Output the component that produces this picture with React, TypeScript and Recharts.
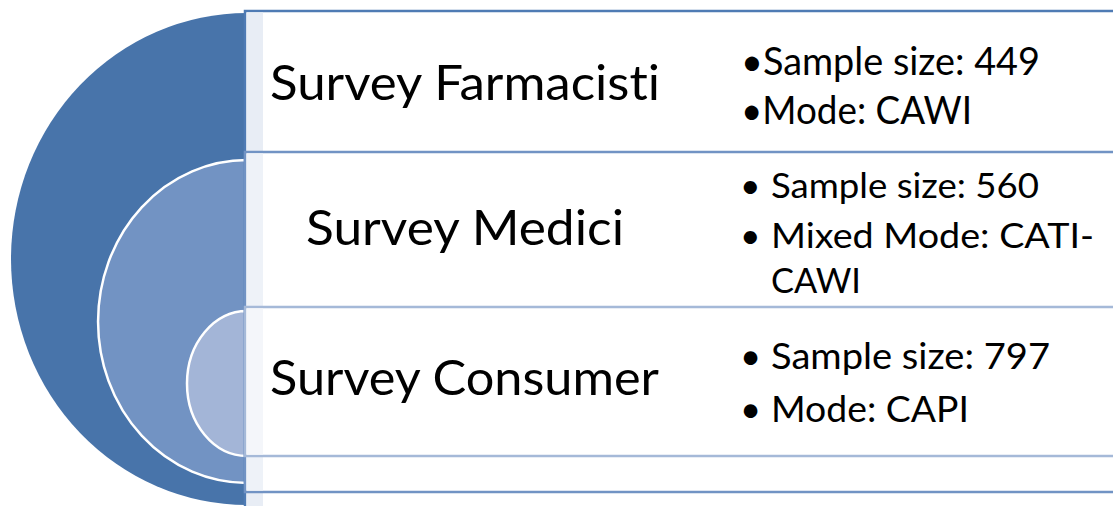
import React from "react";
import { Pie, PieChart } from "recharts";

// survey data
const surveys = ["Survey Farmacisti", "Survey Medici", "Survey Consumer"];
const sampleSizes = [449, 560, 797];
const modeLines = [["Mode: CAWI"], ["Mixed Mode: CATI-", "CAWI"], ["Mode: CAPI"]];

const W = 1113;
const H = 506;
const CX = 247;
const FONT = "Lato, 'Open Sans', sans-serif";

// nested half targets (outer -> inner)
const rings = [
  { cy: 259, ry: 246, rx: 236, fill: "#4874aa", stroke: "none" },
  { cy: 321.5, ry: 161.5, rx: 149, fill: "#7293c3", stroke: "#ffffff" },
  { cy: 383.5, ry: 72.5, rx: 60, fill: "#a3b5d7", stroke: "#ffffff" },
];

// text boxes on the right
const boxes = [
  { top: 11, bottom: 530, line: "#4f7bb4", strip: "#e8edf5" },
  { top: 152, bottom: 492, line: "#7193c4", strip: "#eef2f8" },
  { top: 307, bottom: 456, line: "#a5b9d8", strip: "#f4f6fa" },
];

const titleLayout = [
  { x: 270, y: 100, w: 390 },
  { x: 306, y: 245, w: 318 },
  { x: 270, y: 395, w: 389 },
];

// box 1 has the bullet glued to the text, boxes 2-3 have a gap
const bulletLayout = [
  { glued: true, textX: 741, size: 38, ys: [75, 124], ws: [299, 231] },
  { glued: false, textX: 771, size: 35.5, ys: [198, 248, 293], ws: [268, 323, 90] },
  { glued: false, textX: 771, size: 36.5, ys: [369, 422], ws: [279, 198] },
];

const halfEllipse = (rx: number) => (props: any) => {
  const { cx, cy, outerRadius, fill, stroke } = props;
  const ry = outerRadius;
  const d = `M ${cx} ${cy - ry} A ${rx} ${ry} 0 0 0 ${cx} ${cy + ry} Z`;
  return <path d={d} fill={fill} stroke={stroke} strokeWidth={2.5} />;
};

function Boxes() {
  return (
    <svg
      width={W}
      height={H}
      style={{ position: "absolute", left: 0, top: 0, fontVariantLigatures: "none" }}
      fontFamily={FONT}
    >
      {boxes.map((b, i) => (
        <g key={i}>
          <rect
            x={245}
            y={b.top}
            width={W + 20 - 245}
            height={b.bottom - b.top}
            fill="#ffffff"
            stroke={b.line}
            strokeWidth={2.5}
          />
          <rect
            x={247}
            y={b.top + 1.5}
            width={16}
            height={b.bottom - b.top - 3}
            fill={b.strip}
          />
        </g>
      ))}
      {surveys.map((s, i) => (
        <text
          key={s}
          x={titleLayout[i].x}
          y={titleLayout[i].y}
          fontSize={49}
          fill="#000"
          textLength={titleLayout[i].w}
          lengthAdjust="spacingAndGlyphs"
        >
          {s}
        </text>
      ))}
      {surveys.map((s, i) => {
        const lay = bulletLayout[i];
        const lines = [
          { text: `Sample size: ${sampleSizes[i]}`, bullet: true },
          ...modeLines[i].map((t, j) => ({ text: t, bullet: j === 0 })),
        ];
        return (
          <g key={s}>
            {lines.map((ln, j) => (
              <g key={j}>
                {ln.bullet && !lay.glued && (
                  <text x={740} y={lay.ys[j]} fontSize={lay.size} fill="#000">
                    •
                  </text>
                )}
                <text
                  x={lay.textX}
                  y={lay.ys[j]}
                  fontSize={lay.size}
                  fill="#000"
                  textLength={lay.ws[j]}
                  lengthAdjust="spacingAndGlyphs"
                >
                  {lay.glued && ln.bullet ? `•${ln.text}` : ln.text}
                </text>
              </g>
            ))}
          </g>
        );
      })}
    </svg>
  );
}

export default function App() {
  return (
    <div
      style={{
        position: "absolute",
        left: 0,
        top: 0,
        width: W,
        height: H,
        background: "#fff",
      }}
    >
      <PieChart width={W} height={H} margin={{ top: 0, right: 0, bottom: 0, left: 0 }}>
        {rings.map((r, i) => (
          <Pie
            key={surveys[i]}
            data={[{ name: surveys[i], value: sampleSizes[i] }]}
            dataKey="value"
            nameKey="name"
            cx={CX}
            cy={r.cy}
            innerRadius={0}
            outerRadius={r.ry}
            startAngle={90}
            endAngle={270}
            fill={r.fill}
            stroke={r.stroke}
            shape={halfEllipse(r.rx)}
            isAnimationActive={false}
          />
        ))}
      </PieChart>
      <Boxes />
    </div>
  );
}
